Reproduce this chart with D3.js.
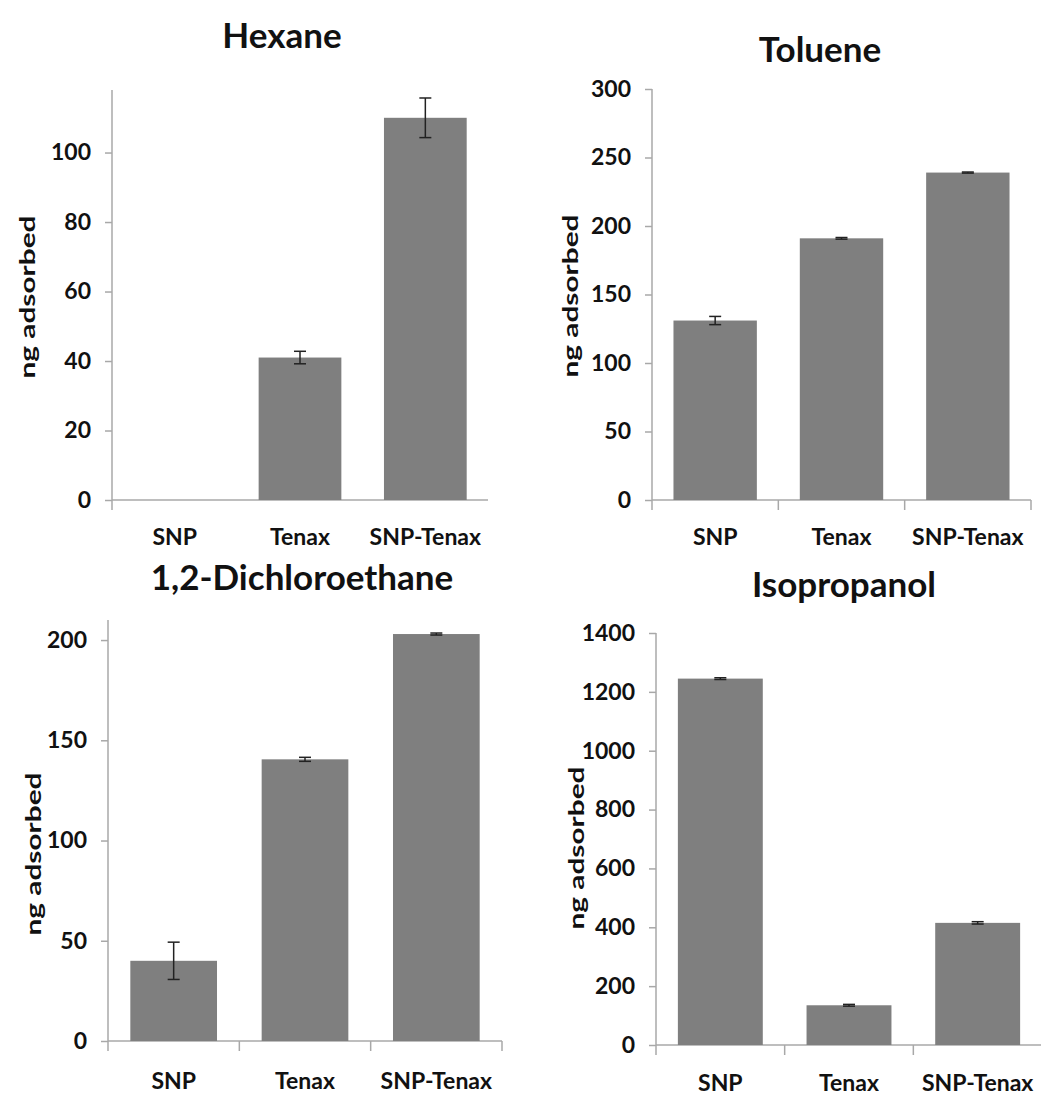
<!DOCTYPE html>
<html>
<head>
<meta charset="utf-8">
<script src="https://cdn.jsdelivr.net/npm/d3@7"></script>
<style>
  body { margin: 0; background: #fff; }
  svg text { font-family: Lato, "Open Sans", sans-serif; font-weight: bold; fill: #111; }
</style>
</head>
<body>
<div id="chart"></div>
<script>
// values (ng adsorbed), error bars as +/- values
var categories = ['SNP', 'Tenax', 'SNP-Tenax']

var hexaneValues = [null, 41, 110]
var hexaneErrors = [null, 1.8, 5.7]
var hexaneTicks = [0, 20, 40, 60, 80, 100]

var tolueneValues = [131, 191, 239]
var tolueneErrors = [3, 0.6, 0.4]
var tolueneTicks = [0, 50, 100, 150, 200, 250, 300]

var dceValues = [40, 140.5, 203]
var dceErrors = [9.3, 1, 0.5]
var dceTicks = [0, 50, 100, 150, 200]

var isoValues = [1245, 135, 415]
var isoErrors = [3, 3, 4]
var isoTicks = [0, 200, 400, 600, 800, 1000, 1200, 1400]

// where each panel sits on the page
var panels = [
  {title: 'Hexane', values: hexaneValues, errors: hexaneErrors, ticks: hexaneTicks, max: 118,
   left: 112, right: 488, top: 90, bottom: 500, titleX: 282, titleY: 48,
   yLabelX: 28, yLabelY: 297, labelY: 545, catTicks: false},
  {title: 'Toluene', values: tolueneValues, errors: tolueneErrors, ticks: tolueneTicks, max: 300,
   left: 652, right: 1031, top: 89, bottom: 500, titleX: 820, titleY: 62,
   yLabelX: 571, yLabelY: 296, labelY: 545, catTicks: true},
  {title: '1,2-Dichloroethane', values: dceValues, errors: dceErrors, ticks: dceTicks, max: 210,
   left: 108, right: 502, top: 620, bottom: 1041, titleX: 302, titleY: 590,
   yLabelX: 34, yLabelY: 854, labelY: 1089, catTicks: true},
  {title: 'Isopropanol', values: isoValues, errors: isoErrors, ticks: isoTicks, max: 1400,
   left: 656, right: 1042, top: 633, bottom: 1045, titleX: 844, titleY: 597,
   yLabelX: 577, yLabelY: 848, labelY: 1091, catTicks: true}
]

var axisColor = '#a8a8a8'
var barColor = '#7f7f7f'

var svg = d3.select('#chart').append('svg')
  .attr('width', 1041)
  .attr('height', 1097)

panels.forEach(function (p) {
  var g = svg.append('g')

  var x = d3.scaleBand().domain(categories).range([p.left, p.right])
    .paddingInner(0.34).paddingOuter(0.17)
  var y = d3.scaleLinear().domain([0, p.max]).range([p.bottom, p.top])

  // title
  g.append('text')
    .attr('x', p.titleX).attr('y', p.titleY)
    .attr('text-anchor', 'middle')
    .style('font-size', '35px')
    .text(p.title)

  // y axis ticks + labels
  var yAxis = g.append('g')
    .attr('transform', 'translate(' + p.left + ',0)')
    .call(d3.axisLeft(y).tickValues(p.ticks).tickFormat(d3.format('d')).tickSize(7).tickPadding(14))
  yAxis.select('.domain').remove()
  yAxis.selectAll('.tick line').attr('stroke', axisColor).attr('stroke-width', 1.5)
  yAxis.selectAll('.tick text').style('font-size', '23px').attr('fill', '#111')

  g.append('line')
    .attr('x1', p.left).attr('x2', p.left)
    .attr('y1', p.top).attr('y2', p.bottom + 10)
    .attr('stroke', axisColor).attr('stroke-width', 1.5)

  // x axis
  g.append('line')
    .attr('x1', p.left).attr('x2', p.right)
    .attr('y1', p.bottom).attr('y2', p.bottom)
    .attr('stroke', axisColor).attr('stroke-width', 1.5)

  if (p.catTicks) {
    g.selectAll('.cat-tick')
      .data(d3.range(1, categories.length + 1))
      .enter().append('line')
      .attr('x1', function (i) { return p.left + i * x.step() })
      .attr('x2', function (i) { return p.left + i * x.step() })
      .attr('y1', p.bottom).attr('y2', p.bottom + 10)
      .attr('stroke', axisColor).attr('stroke-width', 1.5)
  }

  g.selectAll('.cat-label')
    .data(categories)
    .enter().append('text')
    .attr('x', function (d) { return x(d) + x.bandwidth() / 2 })
    .attr('y', p.labelY)
    .attr('text-anchor', 'middle')
    .style('font-size', '23px')
    .text(function (d) { return d })

  // y axis title, stretched along its length like the original
  g.append('text')
    .attr('transform', 'translate(' + p.yLabelX + ',' + p.yLabelY + ') rotate(-90)')
    .attr('text-anchor', 'middle')
    .attr('dy', '0.35em')
    .attr('textLength', 163)
    .attr('lengthAdjust', 'spacingAndGlyphs')
    .style('font-size', '20px')
    .text('ng adsorbed')

  var rows = categories.map(function (c, i) {
    return {cat: c, value: p.values[i], err: p.errors[i]}
  }).filter(function (d) { return d.value != null })

  // bars
  g.selectAll('.bar')
    .data(rows)
    .enter().append('rect')
    .attr('x', function (d) { return x(d.cat) })
    .attr('width', x.bandwidth())
    .attr('y', function (d) { return y(d.value) })
    .attr('height', function (d) { return p.bottom - y(d.value) })
    .attr('fill', barColor)

  // error bars
  var eb = g.selectAll('.err')
    .data(rows)
    .enter().append('g')
  eb.append('line')
    .attr('x1', function (d) { return x(d.cat) + x.bandwidth() / 2 })
    .attr('x2', function (d) { return x(d.cat) + x.bandwidth() / 2 })
    .attr('y1', function (d) { return y(d.value + d.err) })
    .attr('y2', function (d) { return y(d.value - d.err) })
    .attr('stroke', '#222').attr('stroke-width', 1.5)
  ;[1, -1].forEach(function (s) {
    eb.append('line')
      .attr('x1', function (d) { return x(d.cat) + x.bandwidth() / 2 - 6 })
      .attr('x2', function (d) { return x(d.cat) + x.bandwidth() / 2 + 6 })
      .attr('y1', function (d) { return y(d.value + s * d.err) })
      .attr('y2', function (d) { return y(d.value + s * d.err) })
      .attr('stroke', '#222').attr('stroke-width', 1.5)
  })
})
</script>
</body>
</html>
